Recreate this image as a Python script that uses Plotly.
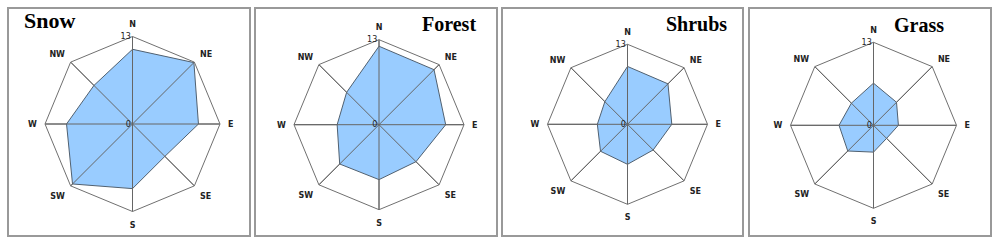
import plotly.graph_objects as go

directions = ["N", "NE", "E", "SE", "S", "SW", "W", "NW"]
panel_titles = ["Snow", "Forest", "Shrubs", "Grass"]
snow = [11.1, 12.9, 9.8, 6.8, 9.6, 12.6, 9.8, 8.1]
forest = [12.0, 11.9, 10.2, 8.0, 8.4, 8.5, 6.4, 7.0]
shrubs = [9.4, 9.3, 7.2, 5.9, 6.5, 6.2, 4.9, 5.2]
grass = [6.6, 5.1, 3.9, 2.9, 4.2, 5.7, 5.4, 4.9]
radial_max = 13

series = [snow, forest, shrubs, grass]

W, H = 1000, 246
# pixel geometry: (cx, cy, r)
geo = [(132.5, 124, 87.5), (379, 124.7, 85), (627.5, 124.3, 80), (873.5, 125.3, 83)]
boxes = [(8, 8, 250, 236), (255, 8, 497, 236), (502, 8, 743, 236), (749, 8, 991, 236)]
title_pos = [(22, 21, "left", 22), (478, 24, "right", 20), (729, 24, "right", 20), (946, 25, "right", 20)]

fig = go.Figure()
layout = dict(width=W, height=H, margin=dict(l=0, r=0, t=0, b=0),
              paper_bgcolor="white", plot_bgcolor="white", showlegend=False)
shapes = []
annotations = []
for i, (vals, name) in enumerate(zip(series, panel_titles)):
    key = "polar" if i == 0 else f"polar{i+1}"
    cx, cy, r = geo[i]
    fig.add_trace(go.Scatterpolar(
        r=vals + [vals[0]], theta=directions + [directions[0]],
        mode="lines", fill="toself", fillcolor="#99CCFF",
        line=dict(color="#506070", width=1), subplot=key, hoverinfo="skip"))
    # spokes drawn above the fill
    sr, st = [], []
    for d in directions:
        sr += [0, radial_max, None]
        st += [d, d, None]
    fig.add_trace(go.Scatterpolar(r=sr, theta=st, mode="lines",
                                  line=dict(color="#666666", width=1),
                                  subplot=key, hoverinfo="skip", connectgaps=False))
    fig.add_trace(go.Scatterpolar(r=[0], theta=["N"], mode="markers",
                                  marker=dict(color="#222222", size=3),
                                  subplot=key, hoverinfo="skip"))
    layout[key] = dict(
        domain=dict(x=[(cx - r) / W, (cx + r) / W], y=[(H - cy - r) / H, (H - cy + r) / H]),
        gridshape="linear", bgcolor="white",
        angularaxis=dict(direction="clockwise", rotation=90, categoryorder="array",
                         categoryarray=directions, showline=True, linecolor="#707070",
                         linewidth=1, gridcolor="#666666", gridwidth=1,
                         ticks="outside", ticklen=6, tickcolor="rgba(0,0,0,0)",
                         tickfont=dict(family="DejaVu Sans", size=8, color="#222222", weight="bold")),
        radialaxis=dict(range=[0, radial_max], tickvals=[0, radial_max], showgrid=False,
                        showline=False, angle=90, side="counterclockwise", ticks="",
                        tickangle=90,
                        tickfont=dict(family="DejaVu Sans", size=8, color="#222222")),
    )
    x0, y0, x1, y1 = boxes[i]
    shapes.append(dict(type="rect", xref="paper", yref="paper",
                       x0=x0 / W, x1=x1 / W, y0=1 - y1 / H, y1=1 - y0 / H,
                       line=dict(color="#999999", width=2)))
    tx, ty, anc, fs = title_pos[i]
    annotations.append(dict(text=f"<b>{name}</b>", xref="paper", yref="paper",
                            x=tx / W, y=1 - ty / H, xanchor=anc, yanchor="middle",
                            showarrow=False,
                            font=dict(family="Liberation Serif", size=fs, color="black")))

layout["shapes"] = shapes
layout["annotations"] = annotations
fig.update_layout(**layout)
fig.write_html("out.html", config={"displayModeBar": False},
               post_script="document.body.style.margin='0';")
